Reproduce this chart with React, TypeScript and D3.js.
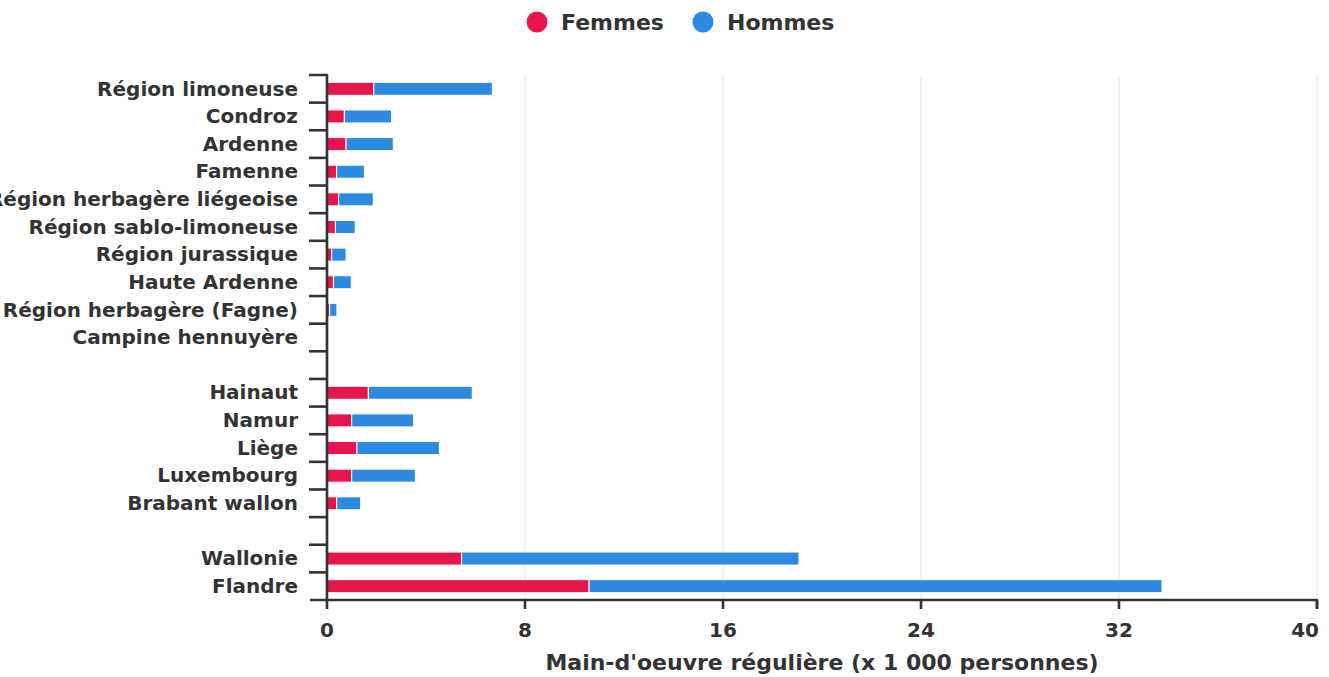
import React from "react";
import * as d3 from "d3";

const categories = [
  "Région limoneuse",
  "Condroz",
  "Ardenne",
  "Famenne",
  "Région herbagère liégeoise",
  "Région sablo-limoneuse",
  "Région jurassique",
  "Haute Ardenne",
  "Région herbagère (Fagne)",
  "Campine hennuyère",
  "",
  "Hainaut",
  "Namur",
  "Liège",
  "Luxembourg",
  "Brabant wallon",
  "",
  "Wallonie",
  "Flandre",
];
const femmes = [1.89, 0.7, 0.77, 0.39, 0.47, 0.34, 0.19, 0.26, 0.11, 0, null, 1.67, 1.0, 1.21, 1.0, 0.39, null, 5.44, 10.59];
const hommes = [4.79, 1.91, 1.91, 1.12, 1.4, 0.8, 0.58, 0.72, 0.29, 0, null, 4.2, 2.5, 3.33, 2.57, 0.97, null, 13.63, 23.15];
const xTicks = [0, 8, 16, 24, 32, 40];
const seriesNames = ["Femmes", "Hommes"];
const colors = ["#e6154a", "#2e8ae0"];
const axisTitle = "Main-d'oeuvre régulière (x 1 000 personnes)";

const W = 1329;
const H = 677;
const left = 327;
const right = 1317;
const top = 75;
const bottom = 600;
const font = "'DejaVu Sans', sans-serif";
const txt = "#333333";

export default function App() {
  const x = d3.scaleLinear().domain([0, 40]).range([left, right]);
  const y = d3
    .scaleBand<number>()
    .domain(categories.map((_, i) => i))
    .range([top, bottom]);
  const step = y.step();
  const barH = 13;

  const stacked = categories.map((c, i) => {
    const f = femmes[i] ?? 0;
    const h = hommes[i] ?? 0;
    return { i, c, segs: [[0, f], [f, f + h]] };
  });

  return (
    <svg
      width={W}
      height={H}
      style={{ position: "absolute", left: 0, top: 0, fontFamily: font }}
    >
      <rect x={0} y={0} width={W} height={H} fill="#ffffff" />
      {/* gridlines */}
      {xTicks.slice(1).map((t) => (
        <line key={t} x1={x(t)} x2={x(t)} y1={top} y2={bottom} stroke="#e6e6e6" strokeWidth={1} />
      ))}
      {/* bars */}
      {stacked.map((d) =>
        d.segs.map(([a, b], k) =>
          b - a > 0 ? (
            <rect
              key={`${d.i}-${k}`}
              x={x(a)}
              y={(y(d.i) as number) + step / 2 - barH / 2}
              width={x(b) - x(a)}
              height={barH}
              fill={colors[k]}
              stroke="#ffffff"
              strokeWidth={1}
            />
          ) : null
        )
      )}
      {/* y axis */}
      <path
        d={`M309,${top}H${left}V${bottom}`}
        fill="none"
        stroke={txt}
        strokeWidth={2.6}
        strokeLinejoin="round"
      />
      {categories.map((_, i) =>
        i > 0 ? (
          <line key={i} x1={309} x2={left} y1={y(i) as number} y2={y(i) as number} stroke={txt} strokeWidth={2.6} />
        ) : null
      )}
      {categories.map((c, i) => (
        <text
          key={i}
          x={298}
          y={(y(i) as number) + step / 2 - 0.5}
          dy="0.36em"
          textAnchor="end"
          fontSize={20}
          fontWeight="bold"
          fill={txt}
        >
          {c}
        </text>
      ))}
      {/* x axis */}
      <path
        d={`M310,${bottom}H${right}V${bottom + 9}`}
        fill="none"
        stroke={txt}
        strokeWidth={2.6}
        strokeLinejoin="round"
      />
      {xTicks.map((t, i) => (
        <g key={t}>
          <line x1={x(t)} x2={x(t)} y1={bottom} y2={bottom + 9} stroke={txt} strokeWidth={2.6} />
          <text
            x={i === xTicks.length - 1 ? 1319 : x(t)}
            y={637}
            textAnchor={i === xTicks.length - 1 ? "end" : "middle"}
            fontSize={20}
            fontWeight="bold"
            fill={txt}
          >
            {t}
          </text>
        </g>
      ))}
      <text x={(left + right) / 2} y={670} textAnchor="middle" fontSize={22} fontWeight="bold" fill={txt}>
        {axisTitle}
      </text>
      {/* legend */}
      {seriesNames.map((s, k) => (
        <g key={s} transform={`translate(${k === 0 ? 537 : 703},22)`}>
          <circle r={10.5} fill={colors[k]} />
          <text x={24} dy="0.36em" fontSize={22} fontWeight="bold" fill={txt}>
            {s}
          </text>
        </g>
      ))}
    </svg>
  );
}
